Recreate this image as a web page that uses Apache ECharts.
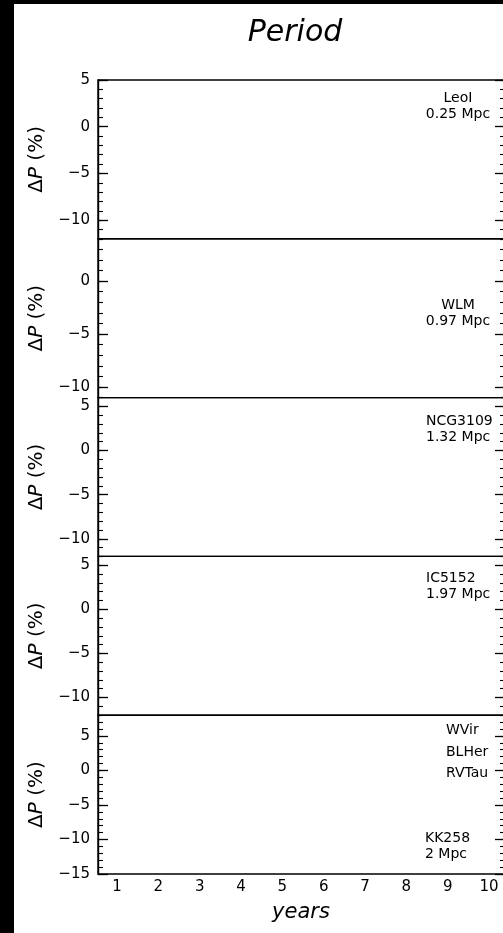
<!DOCTYPE html>
<html>
<head>
<meta charset="utf-8">
<title>Period</title>
<script src="https://cdn.jsdelivr.net/npm/echarts@6/dist/echarts.min.js"></script>
<style>
  html, body { margin: 0; padding: 0; background: #fff; }
  #chart { width: 503px; height: 933px; }
</style>
</head>
<body>
<div id="chart"></div>
<script>
// Observation years along the shared x axis
const years = [1, 2, 3, 4, 5, 6, 7, 8, 9, 10];

// One panel per galaxy, ordered by distance
const galaxies = ['LeoI', 'WLM', 'NCG3109', 'IC5152', 'KK258'];
const distances = ['0.25 Mpc', '0.97 Mpc', '1.32 Mpc', '1.97 Mpc', '2 Mpc'];

// Type II Cepheid classes listed in the last panel
const starTypes = ['WVir', 'BLHer', 'RVTau'];

// ΔP (%) axis limits and labelled ticks for each panel
const yLimits = [[-12, 5], [-11, 4], [-12, 6], [-12, 6], [-15, 8]];
const yTickLabels = [
  [5, 0, -5, -10],
  [0, -5, -10],
  [5, 0, -5, -10],
  [5, 0, -5, -10],
  [5, 0, -5, -10, -15]
];

const FONT = 'DejaVu Sans';
const INK = '#000';

const fmtMinus = v => (v < 0 ? '\u2212' + Math.abs(v) : String(v));

function integersBetween(lo, hi) {
  const out = [];
  for (let v = Math.ceil(lo); v <= hi; v++) out.push(v);
  return out;
}

const chart = echarts.init(document.getElementById('chart'), null, { renderer: 'canvas' });

const panelTop = 80;
const panelH = 158.8;
const plotLeft = 98;
const plotWidth = 407;
const xMin = 0.54;
const xMax = 10.387;

const grids = [];
const xAxes = [];
const yAxes = [];
const series = [];

galaxies.forEach((g, i) => {
  grids.push({
    left: plotLeft,
    width: plotWidth,
    top: panelTop + i * panelH,
    height: panelH,
    show: true,
    borderColor: INK,
    borderWidth: 1.4,
    backgroundColor: 'transparent',
    containLabel: false,
    outerBoundsMode: 'none'
  });

  const last = i === galaxies.length - 1;
  xAxes.push({
    type: 'value',
    gridIndex: i,
    min: xMin,
    max: xMax,
    axisLine: { show: false },
    axisTick: { show: false },
    splitLine: { show: false },
    axisLabel: {
      show: last,
      customValues: years,
      margin: 6,
      color: INK,
      fontFamily: FONT,
      fontSize: 15
    }
  });

  const [lo, hi] = yLimits[i];
  const minor = integersBetween(lo, hi);
  const major = yTickLabels[i];
  const common = {
    type: 'value',
    gridIndex: i,
    min: lo,
    max: hi,
    splitLine: { show: false }
  };

  // left: labelled major ticks
  yAxes.push(Object.assign({}, common, {
    position: 'left',
    axisLine: { show: true, lineStyle: { color: INK, width: 1.4 } },
    axisTick: { show: true, inside: true, length: 10, customValues: major, lineStyle: { color: INK, width: 1.3 } },
    axisLabel: {
      show: true,
      customValues: major,
      formatter: fmtMinus,
      margin: 8,
      color: INK,
      fontFamily: FONT,
      fontSize: 15
    },
    name: '{d|Δ}{p|P}{d| (%)}',
    nameLocation: 'middle',
    nameGap: 51,
    nameTextStyle: {
      color: INK,
      fontFamily: FONT,
      fontSize: 20,
      rich: {
        d: { fontFamily: FONT, fontSize: 20, color: INK },
        p: { fontFamily: FONT, fontSize: 20, fontStyle: 'italic', color: INK }
      }
    }
  }));
  // left: minor ticks every unit
  yAxes.push(Object.assign({}, common, {
    position: 'left',
    axisLine: { show: false },
    axisTick: { show: true, inside: true, length: 5, customValues: minor, lineStyle: { color: INK, width: 1.1 } },
    axisLabel: { show: false }
  }));
  // right: major ticks
  yAxes.push(Object.assign({}, common, {
    position: 'right',
    axisLine: { show: false },
    axisTick: { show: true, inside: true, length: 10, customValues: major, lineStyle: { color: INK, width: 1.3 } },
    axisLabel: { show: false }
  }));
  // right: minor ticks
  yAxes.push(Object.assign({}, common, {
    position: 'right',
    axisLine: { show: false },
    axisTick: { show: true, inside: true, length: 5, customValues: minor, lineStyle: { color: INK, width: 1.1 } },
    axisLabel: { show: false }
  }));

  series.push({
    type: 'line',
    name: g,
    xAxisIndex: i,
    yAxisIndex: i * 4,
    data: [],
    silent: true
  });
});

const txt = (text, x, y, opts) => ({
  type: 'text',
  x, y,
  silent: true,
  z: 100,
  style: Object.assign({
    text,
    fill: INK,
    fontFamily: FONT,
    fontSize: 14,
    lineHeight: 16,
    textAlign: 'left',
    textVerticalAlign: 'middle'
  }, opts || {})
});

const graphic = [
  // dark frame along the left and top edges
  { type: 'rect', shape: { x: 0, y: 0, width: 14, height: 933 }, style: { fill: '#000' }, z: 200, silent: true },
  { type: 'rect', shape: { x: 0, y: 0, width: 503, height: 4 }, style: { fill: '#000' }, z: 200, silent: true },
  // title and shared x-axis title
  txt('Period', 295, 33, { fontSize: 30, fontStyle: 'italic', textAlign: 'center' }),
  txt('years', 301, 913, { fontSize: 21, fontStyle: 'italic', textAlign: 'center' }),
  // galaxy names with distances
  txt(galaxies[0] + '\n' + distances[0], 458, 106, { textAlign: 'center' }),
  txt(galaxies[1] + '\n' + distances[1], 458, 313, { textAlign: 'center' }),
  txt(galaxies[2] + '\n' + distances[2], 426, 429),
  txt(galaxies[3] + '\n' + distances[3], 426, 586),
  txt(galaxies[4] + '\n' + distances[4], 425, 846),
  // star classes
  txt(starTypes[0], 446, 730),
  txt(starTypes[1], 446, 752),
  txt(starTypes[2], 446, 773)
];

chart.setOption({
  backgroundColor: '#fff',
  animation: false,
  grid: grids,
  xAxis: xAxes,
  yAxis: yAxes,
  series,
  graphic
});
</script>
</body>
</html>
